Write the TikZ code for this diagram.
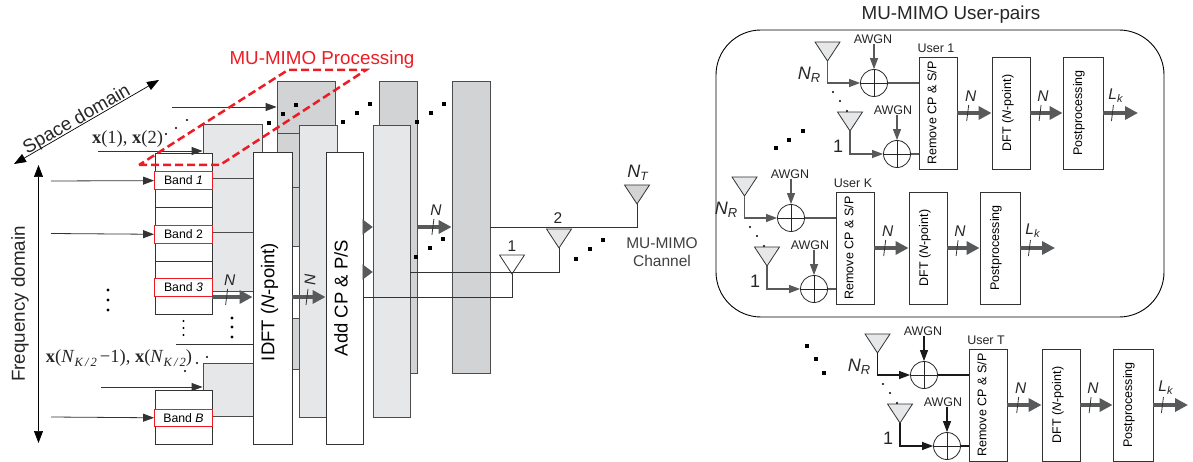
\documentclass[tikz,border=0pt]{standalone}
\usepackage{fontspec}
\setmainfont{Liberation Sans}
\newfontfamily\serifx{Liberation Serif}
\usetikzlibrary{calc,arrows.meta}
\definecolor{lightgr}{HTML}{E6E7E8}
\definecolor{darkgr}{HTML}{D1D3D4}
\definecolor{busgr}{HTML}{58595B}
\definecolor{redline}{HTML}{ED1C24}
\newcommand{\subtxt}[3]{\textit{#1}\raisebox{-.2em}{\fontsize{#3}{#3}\selectfont\textit{#2}}}
\newcommand{\vlabel}[2]{\hspace*{#1}\rotatebox{90}{#2}}
\newcommand{\antenna}[2]{\draw[edge,fill=#2] (#1) -- ++(-12.5,-19) -- ++(25,0) -- cycle;}
\newcommand{\busline}[5]{
  \draw[bus] (#2) -- (#3) coordinate[pos=#4] (#1m);
  \draw[edge] ($(#1m)+(1,-8)$) -- ($(#1m)+(-1,8)$);
  \node[txtn] (#1t) at ($(#1m)+(3,-17)$) {#5};
}
\tikzset{
  edge/.style={draw=black!80,line width=.8pt},
  wire/.style={edge,-{Triangle[length=11pt,width=8pt]}},
  bigarrow/.style={draw=black,line width=.7pt,{Triangle[length=12pt,width=9pt]}-{Triangle[length=12pt,width=9pt]}},
  bus/.style={draw=busgr,line width=3.4pt,-{Triangle[length=13pt,width=13pt]}},
  stub/.style={draw=busgr,line width=.1pt,-{Triangle[length=10pt,width=15pt]},busgr},
  plate/.style={draw=black!70,line width=.8pt,inner sep=0,fill=lightgr,minimum width=#1},
  back/.style={plate=#1,fill=darkgr},
  tall/.style={minimum height=292pt},
  cell/.style={draw=black!80,line width=.8pt,fill=white,inner sep=0,minimum width=57pt,minimum height=54pt},
  bandbox/.style={draw=redline,line width=.9pt,fill=white,inner sep=0,minimum width=58pt,minimum height=17.5pt,font=\fontsize{12.3}{14}\selectfont},
  block/.style={draw=black!80,line width=.9pt,fill=white,inner sep=0,minimum height=112pt,font=\fontsize{12.5}{14}\selectfont},
  bigblock/.style={draw=black!80,line width=.9pt,fill=white,inner sep=0,minimum height=292pt,font=\fontsize{18.5}{20}\selectfont},
  sumnode/.style={circle,draw=black!85,line width=.8pt,inner sep=0,minimum size=27pt,
    path picture={\draw[black!85,line width=.8pt] (path picture bounding box.north) -- (path picture bounding box.south)
      (path picture bounding box.west) -- (path picture bounding box.east);}},
  txts/.style={inner sep=0,text=black!85,font=\fontsize{12.5}{14}\selectfont},
  txtn/.style={inner sep=0,text=black!85,font=\fontsize{15.5}{17}\selectfont\itshape},
  txtb/.style={inner sep=0,text=black!85,font=\fontsize{18.8}{20}\selectfont},
  txtm/.style={inner sep=0,text=black!85,font=\fontsize{15.5}{18}\selectfont,align=center},
  txtx/.style={inner sep=0,text=black!85,font=\fontsize{18.5}{20}\serifx\selectfont},
}
\begin{document}
\begin{tikzpicture}[x=1pt,y=-1pt]
  \useasboundingbox (0,0) rectangle (1193,462);
  % user-pairs frame
  \node[draw=black,line width=.9pt,rounded corners=45pt,inner sep=0,minimum width=448pt,minimum height=287pt] (frame) at (940,173.5) {};
  \node[txtb] (frametitle) at (951,15) {MU-MIMO User-pairs};
  % space and frequency axes
  \coordinate (spaceA) at (14,164);
  \coordinate (spaceB) at (159,80);
  \coordinate (freqA) at (38.5,165);
  \coordinate (freqB) at (38.5,443);
  \draw[bigarrow] (spaceA) -- (spaceB);
  \draw[bigarrow] (freqA) -- (freqB);
  \node[txtb,rotate=30] (spacetxt) at (77,120) {Space domain};
  \node[txtb,rotate=90] (freqtxt) at (20,304) {Frequency domain};
  % layers, back to front
  \node[back=58pt,minimum height=52pt] (da) at (306,107) {};
  \node[back=58pt,minimum height=54pt] (db) at (306,160) {};
  \node[back=58pt,minimum height=59pt] (dc) at (306,216.5) {};
  \node[back=58pt,minimum height=51pt] (dd) at (306,343.5) {};
  \node[plate=59pt,minimum height=54pt] (pa) at (232.5,151) {};
  \node[plate=59pt,minimum height=54pt] (pb) at (232.5,205) {};
  \node[plate=59pt,minimum height=59pt] (pc) at (232.5,261.5) {};
  \node[plate=59pt,minimum height=53pt] (pd) at (232.5,389.5) {};
  \node[plate=38pt,tall] (pe) at (318,271) {};
  \node[back=38pt,tall] (df) at (398,227) {};
  \node[plate=37pt,tall] (pf) at (391.5,271) {};
  \node[back=38pt,tall] (dg) at (471,227) {};
  % band stack
  \node[cell] (cella) at (183.5,180) {};
  \node[cell] (cellb) at (183.5,234) {};
  \node[cell,minimum height=53pt] (cellc) at (183.5,287.5) {};
  \node[cell] (celld) at (183.5,417) {};
  \node[bandbox] (banda) at (183.5,180.5) {Band \textit{1}};
  \node[bandbox] (bandb) at (183.5,234.5) {Band 2};
  \node[bandbox] (bandc) at (183.5,287.5) {Band \textit{3}};
  \node[bandbox] (bandd) at (183.5,418) {Band \textit{B}};
  \node[bigblock,minimum width=39pt] (idft) at (272.5,298) {\vlabel{-6pt}{IDFT (\textit{N}-point)\hspace{8pt}}};
  \node[bigblock,minimum width=37pt] (addcp) at (344.5,298) {\vlabel{-7pt}{Add CP \& P/S}};
  % inputs
  \coordinate (ina) at (51,181);
  \coordinate (inb) at (51,233.5);
  \coordinate (inc) at (51,417);
  \coordinate (ind) at (98,151);
  \coordinate (ine) at (172,107);
  \coordinate (inf) at (101,387);
  \coordinate (ing) at (176,344);
  \draw[wire] (ina) -- (banda);
  \draw[wire] (inb) -- (bandb);
  \draw[wire] (inc) -- (bandd);
  \draw[wire] (ind) -- (ind -| pa.west);
  \draw[wire] (ine) -- (ine -| da.west);
  \draw[wire] (inf) -- (inf -| pd.west);
  \draw[edge] (ing) -- (ing -| idft.west);
  \node[txtx] (xa) at (127.5,139) {{\bfseries x}(1), {\bfseries x}(2)};
  \node[txtx] (xb) at (119,358) {{\bfseries x}(\subtxt{N}{K\,/\,2}{12.5}\,−1), {\bfseries x}(\subtxt{N}{K\,/\,2}{12.5})};
  % buses and stubs
  \coordinate (busa) at (212,297);
  \coordinate (busb) at (417,227);
  \coordinate (stuba) at (363,227);
  \coordinate (stubb) at (363,272);
  \busline{ba}{busa}{busa -| idft.west}{.36}{\textit{N}}
  \busline{bb}{busa -| idft.east}{busa -| addcp.west}{.44}{\rotatebox{90}{\textit{N}}}
  \busline{bc}{busb}{busb -| dg.west}{.46}{\textit{N}}
  \draw[stub] (stuba) -- (stuba -| pf.west);
  \draw[stub] (stubb) -- (stubb -| pf.west);
  % transmit antennas
  \coordinate (anta) at (512,274);
  \coordinate (antb) at (559,248);
  \coordinate (antc) at (637,204);
  \antenna{anta}{white}
  \antenna{antb}{lightgr}
  \antenna{antc}{darkgr}
  \draw[edge] (anta) |- (busa -| addcp.east);
  \draw[edge] (antb) |- (stubb -| pf.east);
  \draw[edge] (antc) |- (busb -| dg.east);
  \node[txtn,font=\fontsize{15.5}{17}\selectfont] (lba) at (512,246) {1};
  \node[txtn,font=\fontsize{15.5}{17}\selectfont] (lbb) at (558,218) {2};
  \node[txtn,font=\fontsize{18}{20}\selectfont] (lbc) at (638,173) {\subtxt{N}{T}{12}};
  \node[txtm,text=black!75] (chan) at (662,252) {MU-MIMO\\Channel};
  % red processing outline
  \draw[redline,line width=2.5pt,dash pattern=on 8pt off 4pt] (139,165) -- (220,165) -- (366,70) -- (288,70) -- cycle;
  \node[txtb,text=redline] (proc) at (322,60) {MU-MIMO Processing};
  % dots
  \foreach \px/\py in {269/123,283/114,296/105,343/122,357/113,370/104,417/122,431/113,444/104,416/257,430/248,443/239,
                       576/259,590/249,603/240,776/148,789/140,803/131,807/346,816/359,824/373}
    \fill[black] (\px-1.7,\py-1.7) rectangle ++(3.4,3.4);
  \foreach \px/\py in {166/134,176/128,187/120,185/371,197/363,207/357,183.5/321,183.5/328,183.5/335}
    \fill[black] (\px,\py) circle (1.1);
  \foreach \px/\py in {108/290,108/300,108/310,232/318,232/327,232/337}
    \fill[black] (\px,\py) circle (1.7);
  % receivers
  \foreach \dx/\dy/\who/\tag/\wc in {0/0/User 1/a/black!65,-83/135/User K/b/black!65,50/292/User T/c/black!90} {
    \begin{scope}[shift={(\dx,\dy)},name prefix=\tag-]
      \coordinate (ra) at (827.5,61);
      \coordinate (rb) at (850,131);
      \antenna{ra}{lightgr}
      \antenna{rb}{lightgr}
      \fill[black] (833,92) circle (1.1) (840,101) circle (1.1) (847,111) circle (1.1);
      \node[sumnode] (sa) at (874,83) {};
      \node[sumnode] (sb) at (897,154) {};
      \node[txts] (na) at (873,39) {AWGN};
      \node[txts] (nb) at (893,110) {AWGN};
      \draw[wire,draw=\wc,line width=1.1pt] (na.south -| sa) -- (sa);
      \draw[wire,draw=\wc,line width=1.1pt] (nb.south -| sb) -- (sb);
      \draw[wire,draw=\wc,line width=1.1pt] (ra) |- (sa);
      \draw[wire,draw=\wc,line width=1.1pt] (rb) |- (sb);
      \node[txtn,font=\fontsize{18}{20}\selectfont] (lnr) at (809,75) {\subtxt{N}{R}{13}};
      \node[txtn,font=\fontsize{18}{20}\selectfont] (lone) at (838,146) {1};
      \node[txts] (who) at (936,48) {\who};
      \node[block,minimum width=38pt] (rem) at (938,113) {\vlabel{-12pt}{Remove CP \& S/P}};
      \node[block,minimum width=38pt] (dft) at (1011,113) {\vlabel{-6pt}{DFT (\textit{N}-point)}};
      \node[block,minimum width=40pt] (post) at (1083,113) {\vlabel{-8pt}{Postprocessing}};
      \coordinate (out) at (1138,113);
      \draw[edge,draw=\wc,line width=1.1pt] (sa) -- (sa -| rem.west);
      \draw[edge,draw=\wc,line width=1.1pt] (sb) -- (sb -| rem.west);
      \busline{ua}{rem}{dft}{.3}{N}
      \busline{ub}{dft}{post}{.3}{N}
      \busline{uc}{post}{out}{.26}{\subtxt{L}{k}{11}}
    \end{scope}
  }
\end{tikzpicture}
\end{document}
